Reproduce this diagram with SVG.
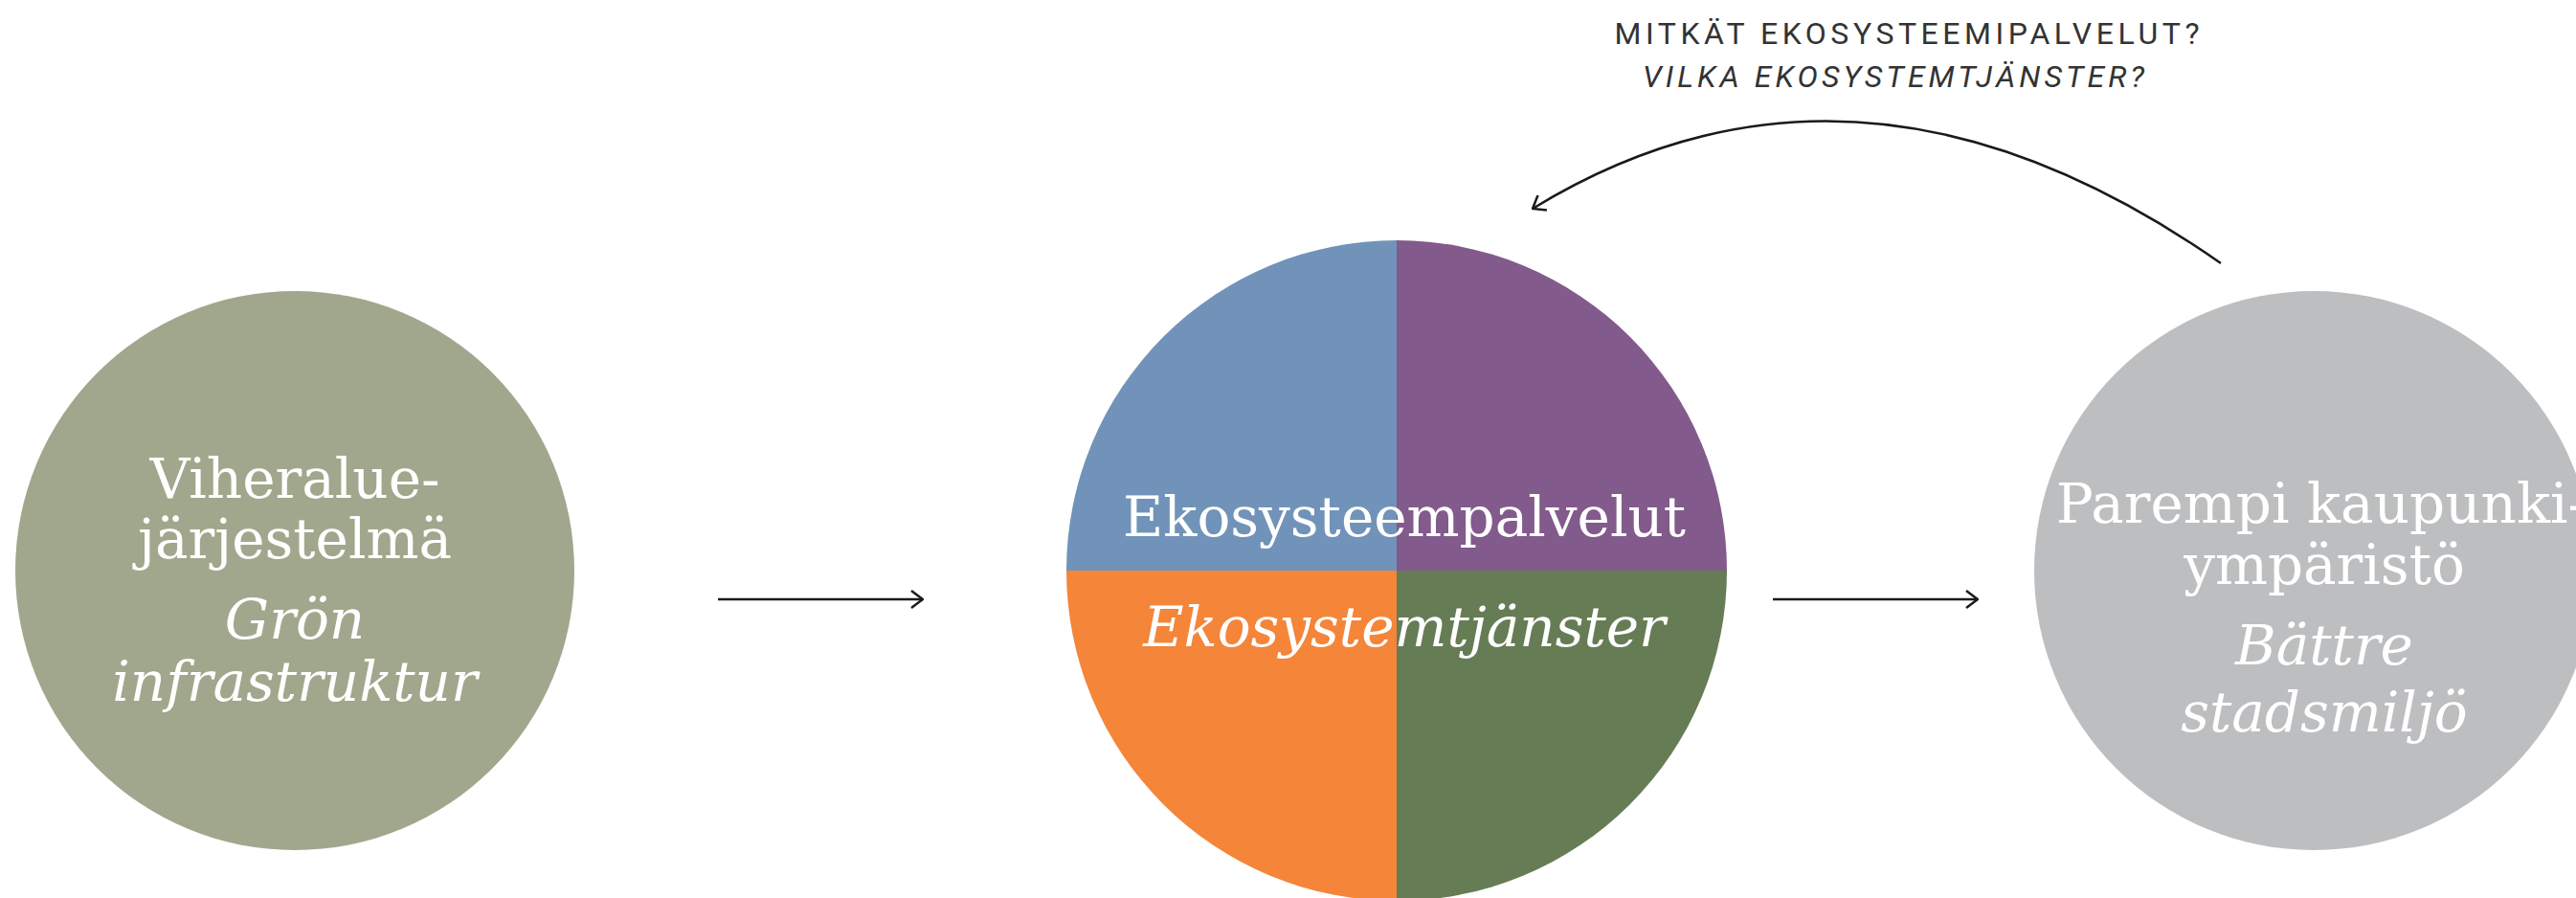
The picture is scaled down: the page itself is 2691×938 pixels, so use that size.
<svg xmlns="http://www.w3.org/2000/svg" width="2691" height="938" viewBox="0 0 2691 938">
<style>
  .main { font-family: "DejaVu Serif", "Liberation Serif", serif; font-size: 58px; fill: #ffffff; text-anchor: middle; }
  .it { font-style: italic; }
  .q { font-family: "Roboto", "Liberation Sans", sans-serif; font-size: 32px; fill: #333333; text-anchor: middle; }
  .conn { fill: none; stroke: #1a1a1a; stroke-width: 2.5; }
</style>
<defs>
  <marker id="chev" viewBox="0 0 14 20" refX="13" refY="10" markerWidth="14" markerHeight="20" markerUnits="userSpaceOnUse" orient="auto">
    <path d="M1 1 L13 10 L1 19" fill="none" stroke="#1a1a1a" stroke-width="2.5"/>
  </marker>
</defs>
<rect width="2691" height="938" fill="#ffffff"/>

<g id="node-viheralue">
  <circle cx="308" cy="596" r="292" fill="#A1A78C"/>
  <text class="main" x="308" y="520">Viheralue-</text>
  <text class="main" x="308" y="583">järjestelmä</text>
  <text class="main it" x="308" y="667">Grön</text>
  <text class="main it" x="308" y="732">infrastruktur</text>
</g>

<g id="node-ekosysteem">
  <path d="M1459 596 L1459 251 A345 345 0 0 0 1114 596 Z" fill="#7193B9"/>
  <path d="M1459 596 L1804 596 A345 345 0 0 0 1459 251 Z" fill="#825A8C"/>
  <path d="M1459 596 L1114 596 A345 345 0 0 0 1459 941 Z" fill="#F48539"/>
  <path d="M1459 596 L1459 941 A345 345 0 0 0 1804 596 Z" fill="#667C55"/>
  <text class="main" x="1467" y="560">Ekosysteempalvelut</text>
  <text class="main it" x="1467" y="675">Ekosystemtjänster</text>
</g>

<g id="node-parempi">
  <circle cx="2417" cy="596" r="292" fill="#BDBEC0"/>
  <text class="main" x="2425" y="546">Parempi kaupunki-</text>
  <text class="main" x="2428" y="610">ympäristö</text>
  <text class="main it" x="2428" y="694">Bättre</text>
  <text class="main it" x="2428" y="764">stadsmiljö</text>
</g>

<g id="label-question">
  <text class="q" x="1992" y="46" textLength="611" lengthAdjust="spacing">MITKÄT EKOSYSTEEMIPALVELUT?</text>
  <text class="q it" x="1978" y="91" textLength="524" lengthAdjust="spacing">VILKA EKOSYSTEMTJÄNSTER?</text>
</g>

<g id="connectors">
  <line class="conn" x1="750" y1="626" x2="964" y2="626" marker-end="url(#chev)"/>
  <line class="conn" x1="1852" y1="626" x2="2066" y2="626" marker-end="url(#chev)"/>
  <path class="conn" d="M2320 275 Q1941 10 1601 218" marker-end="url(#chev)"/>
</g>
</svg>
